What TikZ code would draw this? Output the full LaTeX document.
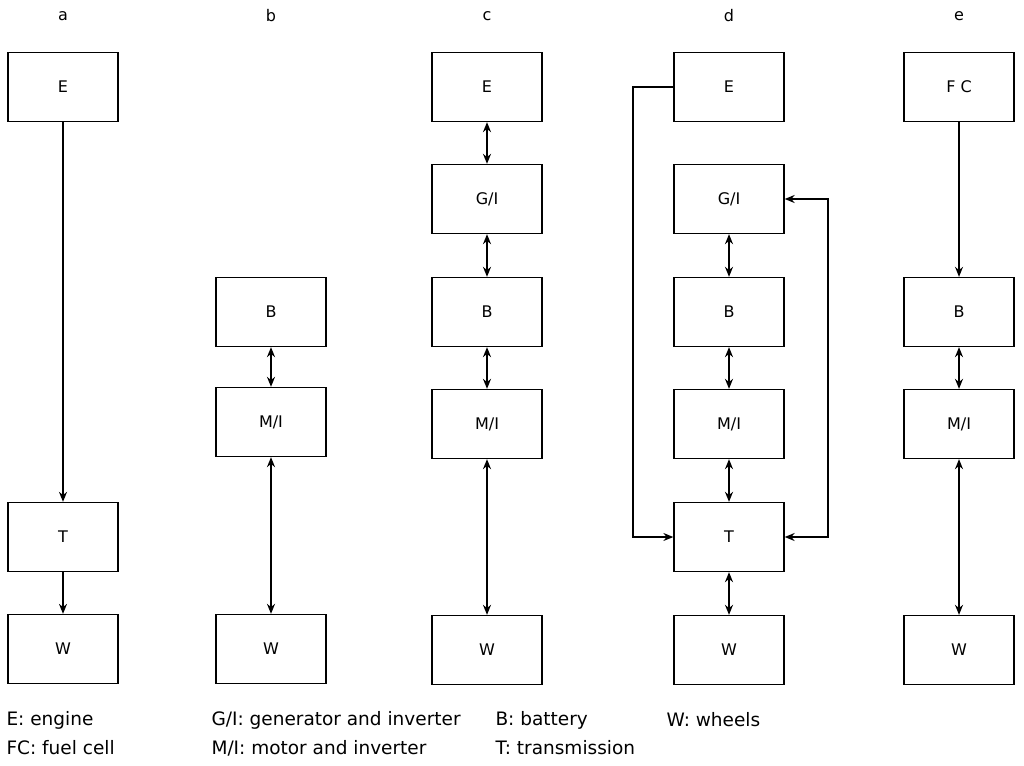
\documentclass[tikz,border=0pt]{standalone}
\usepackage{fontspec}
\setmainfont{DejaVu Sans}
\usetikzlibrary{arrows.meta}
\begin{document}
\begin{tikzpicture}[x=1pt,y=-1pt,
  box/.style={draw,line width=1.3pt,minimum width=110pt,minimum height=69pt,inner sep=0pt,font=\fontsize{16}{19}\selectfont},
  one/.style={line width=1.3pt,-{Stealth[length=10pt,width=8pt]}},
  two/.style={line width=1.8pt,{Stealth[length=10pt,width=8pt]}-{Stealth[length=10pt,width=8pt]}},
  lab/.style={font=\fontsize{16}{19}\selectfont},
  leg/.style={font=\fontsize{18.5}{21}\selectfont,anchor=west}]
\useasboundingbox (0,0) rectangle (1024,765);
\foreach \c/\x in {a/63,b/271,c/487,d/729,e/959} \node[lab] (l\c) at (\x,16) {\c};
% a
\node[box] (aE) at (63,87) {E};
\node[box] (aT) at (63,537) {T};
\node[box] (aW) at (63,649) {W};
\draw[one] (aE) -- (aT);
\draw[one] (aT) -- (aW);
% b
\node[box] (bB) at (271,312) {B};
\node[box] (bM) at (271,422) {M/I};
\node[box] (bW) at (271,649) {W};
\draw[two] (bB) -- (bM);
\draw[two] (bM) -- (bW);
% c
\node[box] (cE) at (487,87) {E};
\node[box] (cG) at (487,199) {G/I};
\node[box] (cB) at (487,312) {B};
\node[box] (cM) at (487,424) {M/I};
\node[box] (cW) at (487,650) {W};
\draw[two] (cE) -- (cG);
\draw[two] (cG) -- (cB);
\draw[two] (cB) -- (cM);
\draw[two] (cM) -- (cW);
% d
\node[box] (dE) at (729,87) {E};
\node[box] (dG) at (729,199) {G/I};
\node[box] (dB) at (729,312) {B};
\node[box] (dM) at (729,424) {M/I};
\node[box] (dT) at (729,537) {T};
\node[box] (dW) at (729,650) {W};
\draw[two] (dG) -- (dB);
\draw[two] (dB) -- (dM);
\draw[two] (dM) -- (dT);
\draw[two] (dT) -- (dW);
\coordinate (dl1) at (633,87);
\coordinate (dl2) at (633,537);
\coordinate (dr1) at (828,537);
\coordinate (dr2) at (828,199);
\draw[one] (dE.west) -- (dl1) -- (dl2) -- (dT.west);
\draw[one,{Stealth[length=10pt,width=8pt]}-{Stealth[length=10pt,width=8pt]}] (dT.east) -- (dr1) -- (dr2) -- (dG.east);
% e
\node[box] (eF) at (959,87) {F C};
\node[box] (eB) at (959,312) {B};
\node[box] (eM) at (959,424) {M/I};
\node[box] (eW) at (959,650) {W};
\draw[one] (eF) -- (eB);
\draw[two] (eB) -- (eM);
\draw[two] (eM) -- (eW);
% legend
\node[leg] (g1) at (3,720) {E: engine};
\node[leg] (g2) at (3,748) {FC: fuel cell};
\node[leg] (g3) at (208,720) {G/I: generator and inverter};
\node[leg] (g4) at (208,748) {M/I: motor and inverter};
\node[leg] (g5) at (492,720) {B: battery};
\node[leg] (g6) at (492,748) {T: transmission};
\node[leg] (g7) at (663,720) {W: wheels};
\end{tikzpicture}
\end{document}
